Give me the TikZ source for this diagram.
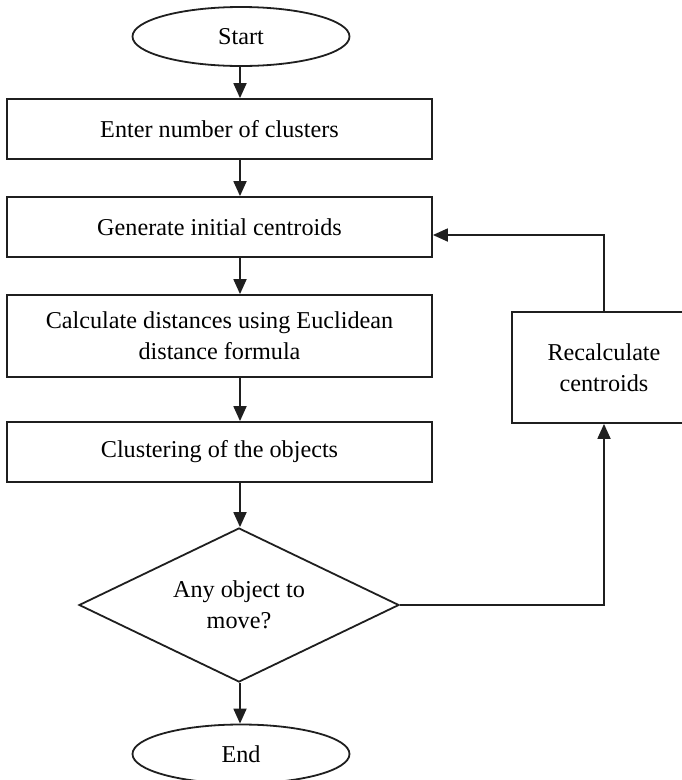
\documentclass[tikz,border=0pt]{standalone}
\usepackage{fontspec}
\setmainfont{Liberation Serif}
\usetikzlibrary{shapes.geometric,arrows.meta}

\definecolor{ink}{gray}{0.12}

\tikzset{
  every node/.style={font=\fontsize{24.2}{31}\selectfont, text=black},
  line/.style={draw=ink, line width=1.8pt},
  terminal/.style={line, ellipse, inner sep=0pt, minimum width=217pt, minimum height=59pt},
  procbox/.style={line, rectangle, inner sep=0pt, minimum width=425pt, align=center},
  sidebox/.style={line, rectangle, inner sep=0pt, minimum width=184pt, minimum height=111pt, align=center},
  decision/.style={line, diamond, aspect=2.08, inner sep=0pt, minimum width=320pt, minimum height=154pt, align=center},
  arr/.style={draw=ink, line width=1.8pt, -{Triangle[length=15pt,width=13pt]}}
}

\begin{document}
\begin{tikzpicture}[x=1pt, y=-1pt]
  \useasboundingbox (0,0) rectangle (682,780);

  % main column
  \node[terminal] (start) at (241,36.5) {Start};
  \node[procbox, minimum height=60pt] (enter) at (219.5,129) {Enter number of clusters};
  \node[procbox, minimum height=60pt] (gen) at (219.5,227) {Generate initial centroids};
  \node[procbox, minimum height=82pt] (calc) at (219.5,336) {Calculate distances using Euclidean\\distance formula};
  \node[procbox, minimum height=60pt] (clus) at (219.5,452) {Clustering of the objects};
  \node[decision] (move) at (239,605) {Any object to\\move?};
  \node[terminal] (finish) at (241,754) {End};

  % feedback branch
  \node[sidebox] (recalc) at (604,367.5) {Recalculate\\centroids};

  % forward flow
  \draw[arr] (start.south -| 240,0) -- (enter.north -| 240,0);
  \draw[arr] (enter.south -| 240,0) -- (gen.north -| 240,0);
  \draw[arr] (gen.south -| 240,0) -- (calc.north -| 240,0);
  \draw[arr] (calc.south -| 240,0) -- (clus.north -| 240,0);
  \draw[arr] (clus.south -| 240,0) -- (move.north -| 240,0);
  \draw[arr] (move.south -| 240,0) -- (finish.north -| 240,0);

  % loop back
  \draw[arr] (move.east) -| (recalc.south);
  \draw[arr] (recalc.north) |- ([yshift=-8pt]gen.east);
\end{tikzpicture}
\end{document}
